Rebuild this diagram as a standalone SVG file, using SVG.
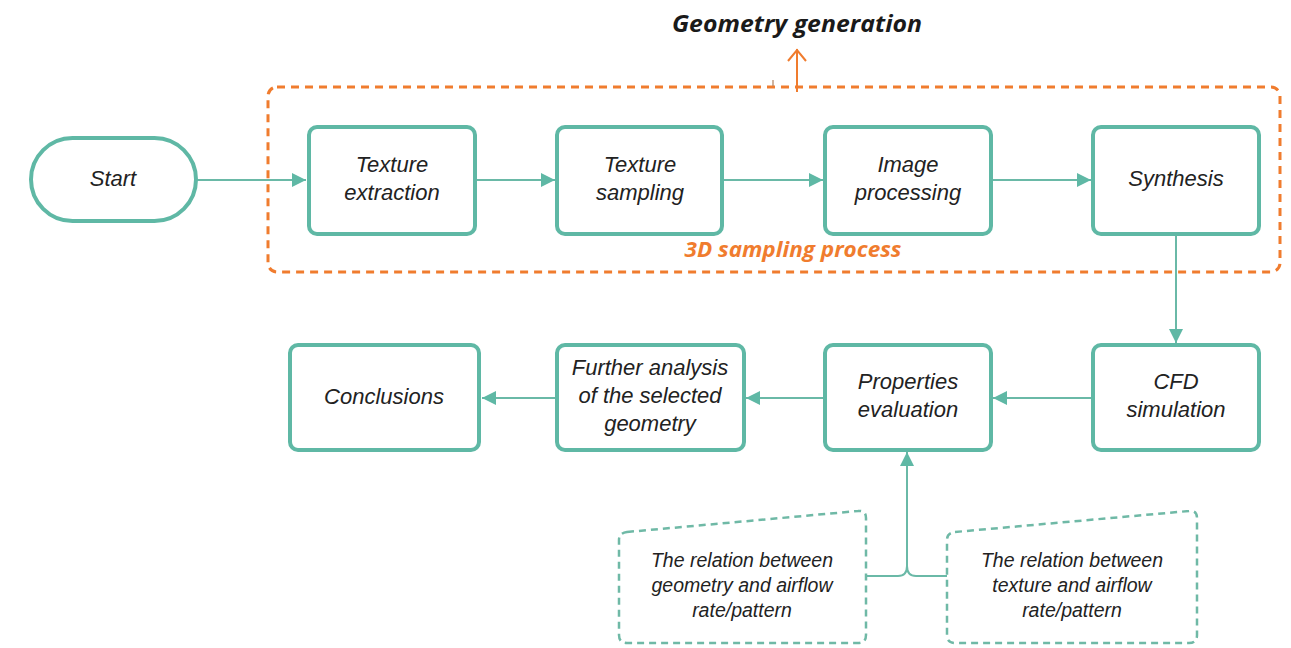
<svg xmlns="http://www.w3.org/2000/svg" width="1291" height="648" viewBox="0 0 1291 648">
<defs>
<marker id="ah2" viewBox="0 0 12 12" refX="12" refY="6" markerWidth="14" markerHeight="14" markerUnits="userSpaceOnUse" orient="auto">
<path d="M0,0 L12,6 L0,12 z" fill="#5fb8a5"/>
</marker>
<marker id="oa" viewBox="0 0 20 14" refX="10" refY="1" markerWidth="20" markerHeight="14" markerUnits="userSpaceOnUse" orient="0">
<path d="M1,13 L10,2 L19,13" fill="none" stroke="#f07c2e" stroke-width="2"/>
</marker>
</defs>
<style>
.n{fill:#fff;stroke:#5fb8a5;stroke-width:4}
.d{fill:#fff;stroke:#6fb9a6;stroke-width:2.5;stroke-dasharray:7 5}
.t{font-family:"Liberation Sans",Arial,sans-serif;font-style:italic;font-size:22px;fill:#222;text-anchor:middle}
.s{font-family:"Liberation Sans",Arial,sans-serif;font-style:italic;font-size:19.5px;fill:#222;text-anchor:middle}
.c{fill:none;stroke:#6ab9a7;stroke-width:2}
.h{font-family:"Open Sans",Lato,sans-serif;font-weight:bold;font-style:italic;text-anchor:middle}
</style>
<rect width="1291" height="648" fill="#fff"/>
<g id="group-3d">
<rect x="268" y="87" width="1012" height="185" rx="9" fill="none" stroke="#f07c2e" stroke-width="3" stroke-dasharray="8 6"/>
<line x1="773" y1="80" x2="773" y2="86" stroke="#b0805e" stroke-width="1.2"/>
<text class="h" x="793" y="257" font-size="21" fill="#f07c2e" textLength="217" lengthAdjust="spacingAndGlyphs">3D sampling process</text>
</g>
<g id="geometry-generation">
<line x1="797" y1="92" x2="797" y2="49" stroke="#f07c2e" stroke-width="2" marker-end="url(#oa)"/>
<text class="h" x="797" y="32" font-size="24" fill="#1a1a1a" textLength="250" lengthAdjust="spacingAndGlyphs">Geometry generation</text>
</g>
<g id="connectors">
<line class="c" x1="197" y1="180" x2="306" y2="180" marker-end="url(#ah2)"/>
<line class="c" x1="476" y1="180" x2="555" y2="180" marker-end="url(#ah2)"/>
<line class="c" x1="723" y1="180" x2="823" y2="180" marker-end="url(#ah2)"/>
<line class="c" x1="992" y1="180" x2="1091" y2="180" marker-end="url(#ah2)"/>
<line class="c" x1="1176" y1="235" x2="1176" y2="343" marker-end="url(#ah2)"/>
<line class="c" x1="1092" y1="398" x2="993" y2="398" marker-end="url(#ah2)"/>
<line class="c" x1="824" y1="398" x2="746" y2="398" marker-end="url(#ah2)"/>
<line class="c" x1="556" y1="398" x2="482" y2="398" marker-end="url(#ah2)"/>
<path class="c" d="M866,576 H898 Q907,576 907,566 M947,576 H916 Q907,576 907,566 V452" marker-end="url(#ah2)"/>
</g>
<g id="start">
<rect class="n" x="31" y="138" width="165" height="83" rx="41.5"/>
<text class="t" x="113" y="186">Start</text>
</g>
<g id="texture-extraction">
<rect class="n" x="309" y="127" width="166" height="107" rx="8"/>
<text class="t" x="392" y="172">Texture</text>
<text class="t" x="392" y="200">extraction</text>
</g>
<g id="texture-sampling">
<rect class="n" x="557" y="127" width="165" height="107" rx="8"/>
<text class="t" x="640" y="172">Texture</text>
<text class="t" x="640" y="200">sampling</text>
</g>
<g id="image-processing">
<rect class="n" x="825" y="127" width="166" height="107" rx="8"/>
<text class="t" x="908" y="172">Image</text>
<text class="t" x="908" y="200">processing</text>
</g>
<g id="synthesis">
<rect class="n" x="1093" y="127" width="166" height="107" rx="8"/>
<text class="t" x="1176" y="186">Synthesis</text>
</g>
<g id="cfd">
<rect class="n" x="1093" y="345" width="166" height="105" rx="8"/>
<text class="t" x="1176" y="389">CFD</text>
<text class="t" x="1176" y="417">simulation</text>
</g>
<g id="properties">
<rect class="n" x="825" y="345" width="166" height="105" rx="8"/>
<text class="t" x="908" y="389">Properties</text>
<text class="t" x="908" y="417">evaluation</text>
</g>
<g id="further">
<rect class="n" x="557" y="345" width="187" height="105" rx="8"/>
<text class="t" x="650" y="375">Further analysis</text>
<text class="t" x="650" y="403">of the selected</text>
<text class="t" x="650" y="431">geometry</text>
</g>
<g id="conclusions">
<rect class="n" x="290" y="345" width="189" height="105" rx="8"/>
<text class="t" x="384" y="404">Conclusions</text>
</g>
<g id="relation-geometry">
<path class="d" d="M627,532 L858,511 Q866,510 866,518 V635 Q866,643 858,643 H627 Q619,643 619,635 V540 Q619,533 627,532 Z"/>
<text class="s" x="742" y="567">The relation between</text>
<text class="s" x="742" y="592">geometry and airflow</text>
<text class="s" x="742" y="617">rate/pattern</text>
</g>
<g id="relation-texture">
<path class="d" d="M955,532 L1189,511 Q1197,510 1197,518 V635 Q1197,643 1189,643 H955 Q947,643 947,635 V540 Q947,533 955,532 Z"/>
<text class="s" x="1072" y="567">The relation between</text>
<text class="s" x="1072" y="592">texture and airflow</text>
<text class="s" x="1072" y="617">rate/pattern</text>
</g>
</svg>
